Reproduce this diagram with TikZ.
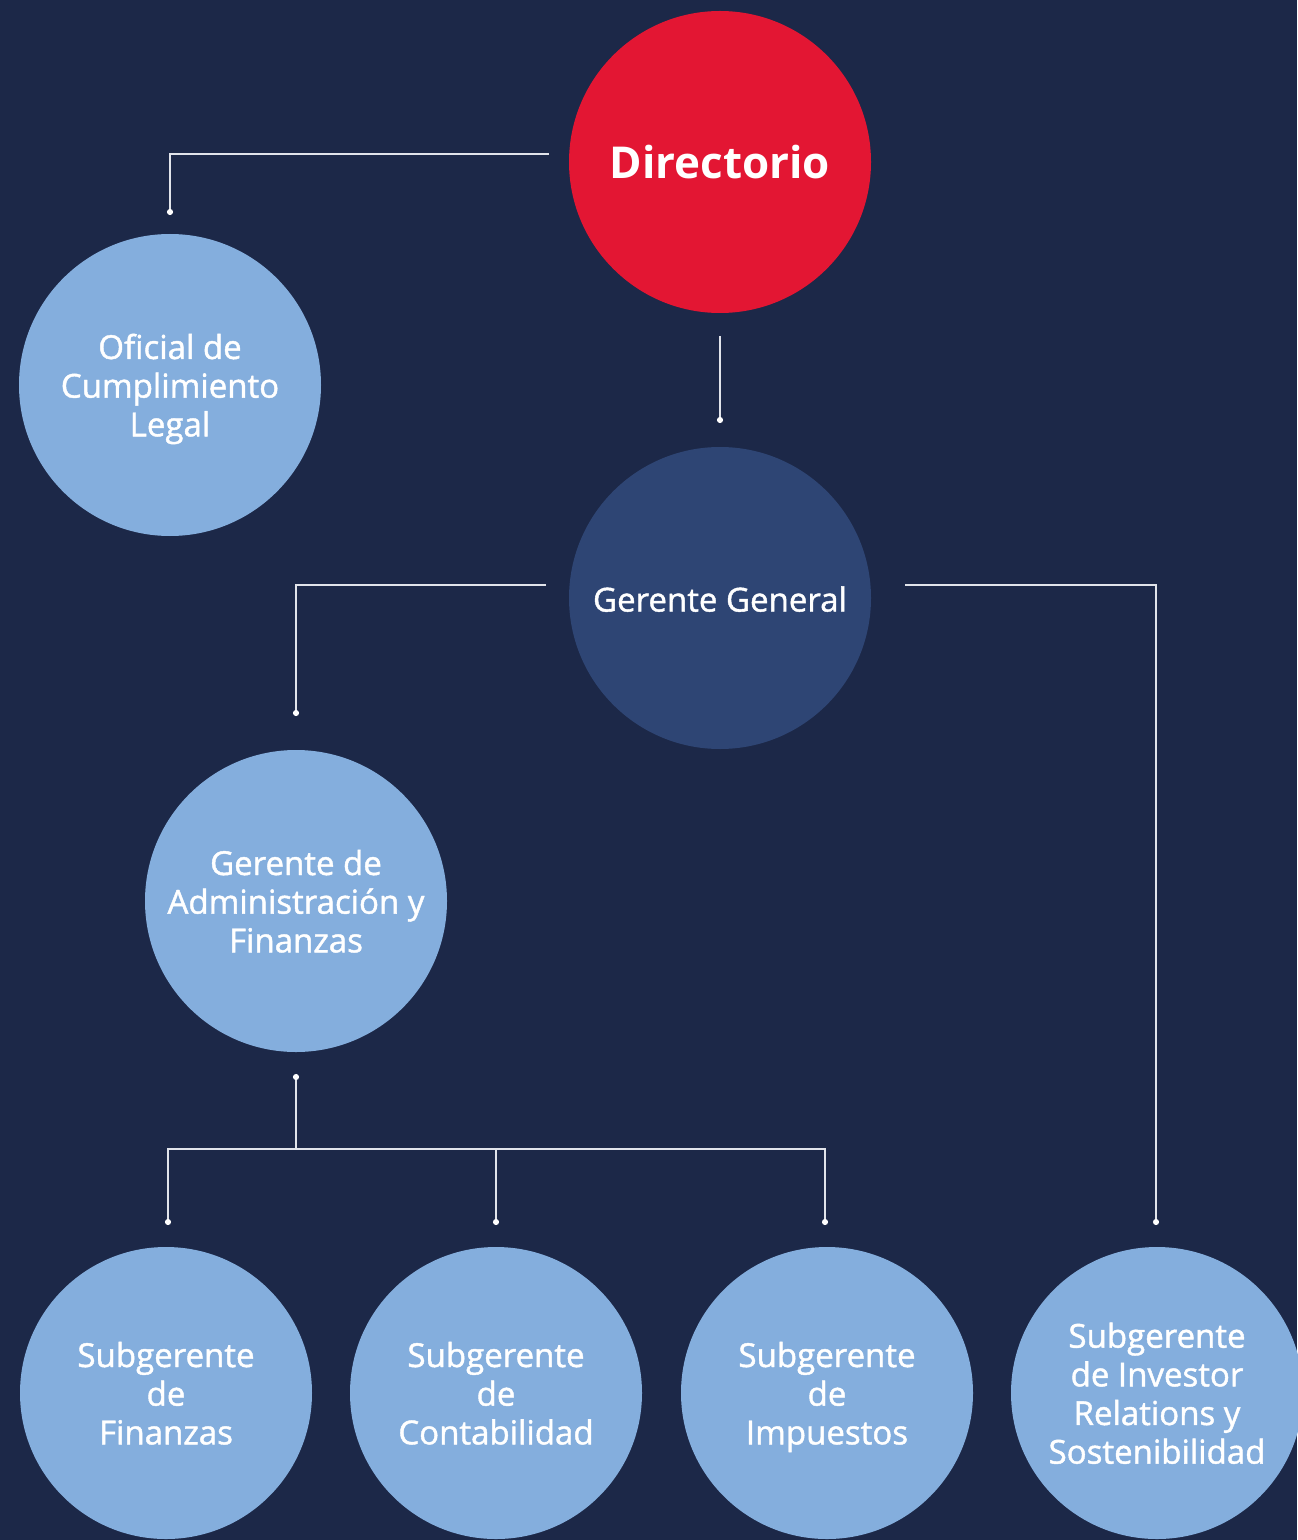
\documentclass[tikz,border=0pt]{standalone}
\usepackage{fontspec}
\setmainfont{Open Sans}
\newfontfamily\semi{Open Sans}[FakeBold=1.3]
\newcommand\topstr{\rule{0pt}{21pt}}
\definecolor{bg}{RGB}{28,40,72}
\definecolor{redc}{RGB}{227,22,51}
\definecolor{navy}{RGB}{46,69,116}
\definecolor{lblue}{RGB}{132,174,221}
\definecolor{linec}{RGB}{225,228,235}
\begin{document}
\begin{tikzpicture}[x=0.02cm,y=-0.02cm,
  bubble/.style={circle,minimum size=302*0.02cm,inner sep=0pt,align=center,text=white,font=\semi\fontsize{18.8}{22}\selectfont},
  smallbubble/.style={bubble,minimum size=292*0.02cm},
  conn/.style={draw=linec,line width=1.1pt},
  enddot/.style={fill=white,circle,inner sep=0pt,minimum size=3.5pt}]
\fill[bg] (0,0) rectangle (1297,1540);
\useasboundingbox (0,0) rectangle (1297,1540);
% nodes
\node[bubble,fill=redc,font=\bfseries\fontsize{25}{30}\selectfont] (dir) at (720,162) {Directorio};
\node[bubble,fill=lblue] (ofi) at (170,385) {\topstr Oficial de\\Cumplimiento\\Legal\strut};
\node[bubble,fill=navy] (gg) at (720,598) {\rule{0pt}{22pt}Gerente General\strut};
\node[bubble,fill=lblue] (adm) at (296,901) {\topstr Gerente de\\Administración y\\Finanzas\strut};
\node[smallbubble,fill=lblue] (fin) at (166,1393) {\topstr Subgerente\\de\\Finanzas\strut};
\node[smallbubble,fill=lblue] (con) at (496,1393) {\topstr Subgerente\\de\\Contabilidad\strut};
\node[smallbubble,fill=lblue] (imp) at (827,1393) {\topstr Subgerente\\de\\Impuestos\strut};
\node[smallbubble,fill=lblue] (inv) at (1157,1393) {\topstr Subgerente\\de Investor\\Relations y\\Sostenibilidad\strut};
% connector end points
\coordinate (dirL) at (549,154);
\coordinate (ofiT) at (170,212);
\coordinate (dirB) at (720,336);
\coordinate (ggT) at (720,420);
\coordinate (ggL) at (546,585);
\coordinate (admT) at (296,713);
\coordinate (ggR) at (905,585);
\coordinate (invT) at (1156,1222);
\coordinate (admB) at (296,1077);
\coordinate (bus) at (296,1149);
\coordinate (finT) at (168,1222);
\coordinate (conT) at (496,1222);
\coordinate (impT) at (825,1222);
% connectors
\draw[conn] (dirL) -| (ofiT);
\draw[conn] (dirB) -- (ggT);
\draw[conn] (ggL) -| (admT);
\draw[conn] (ggR) -| (invT);
\draw[conn] (admB) -- (bus);
\draw[conn] (finT) |- (bus) -| (impT);
\draw[conn] (conT) -- (conT |- bus);
% dots
\foreach \p in {ofiT,ggT,admT,invT,admB,finT,conT,impT}
  \node[enddot] at (\p) {};
\end{tikzpicture}
\end{document}
